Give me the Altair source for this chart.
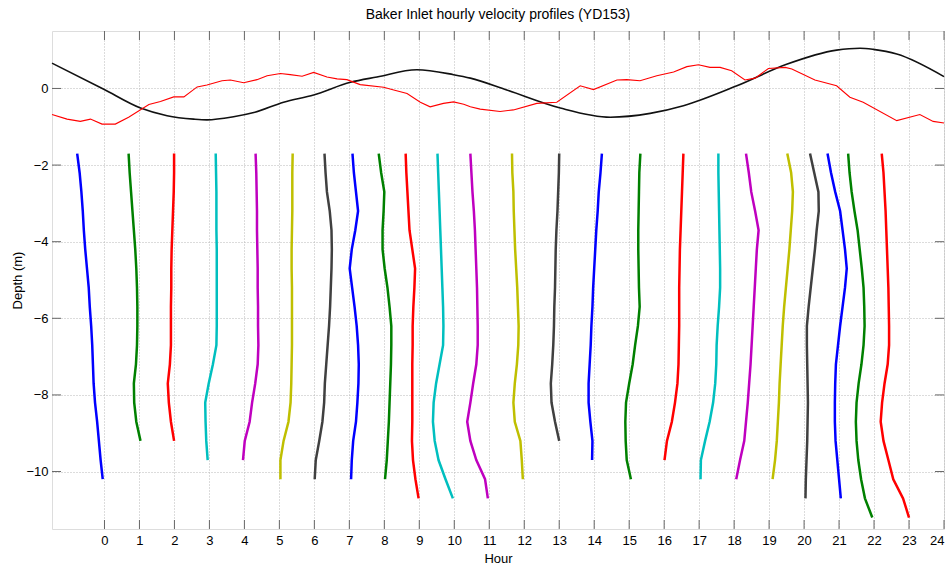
import altair as alt
import pandas as pd

# ---- data ----
depths = [-1.7, -2.2, -2.7, -3.2, -3.7, -4.2, -4.7, -5.2, -5.7, -6.2,
          -6.7, -7.2, -7.7, -8.2, -8.7, -9.2, -9.7, -10.2, -10.7, -11.2]

profile_x = [
    [-0.78, -0.71, -0.66, -0.62, -0.59, -0.55, -0.50, -0.45, -0.42, -0.38, -0.35, -0.33, -0.31, -0.27, -0.21, -0.16, -0.11, -0.05],
    [0.69, 0.72, 0.76, 0.80, 0.84, 0.88, 0.91, 0.93, 0.94, 0.94, 0.93, 0.90, 0.84, 0.85, 0.91, 1.03],
    [1.99, 1.99, 1.98, 1.96, 1.94, 1.92, 1.91, 1.91, 1.90, 1.90, 1.90, 1.87, 1.81, 1.84, 1.90, 1.99],
    [3.18, 3.19, 3.20, 3.20, 3.20, 3.21, 3.21, 3.21, 3.21, 3.21, 3.20, 3.10, 2.98, 2.88, 2.89, 2.91, 2.95],
    [4.32, 4.34, 4.35, 4.36, 4.36, 4.37, 4.38, 4.38, 4.39, 4.39, 4.40, 4.38, 4.31, 4.22, 4.15, 4.01, 3.96],
    [5.38, 5.37, 5.37, 5.37, 5.36, 5.35, 5.35, 5.36, 5.36, 5.36, 5.36, 5.35, 5.34, 5.32, 5.26, 5.12, 5.03, 5.03],
    [6.29, 6.32, 6.36, 6.44, 6.49, 6.50, 6.49, 6.47, 6.45, 6.42, 6.38, 6.34, 6.30, 6.28, 6.23, 6.14, 6.04, 6.01],
    [7.09, 7.13, 7.19, 7.25, 7.17, 7.07, 7.01, 7.08, 7.15, 7.21, 7.25, 7.27, 7.26, 7.23, 7.19, 7.11, 7.07, 7.05],
    [7.84, 7.91, 8.00, 7.98, 7.95, 7.95, 8.01, 8.09, 8.15, 8.20, 8.20, 8.19, 8.17, 8.15, 8.13, 8.10, 8.07, 8.02],
    [8.61, 8.63, 8.66, 8.69, 8.72, 8.80, 8.88, 8.86, 8.83, 8.81, 8.81, 8.80, 8.80, 8.80, 8.80, 8.79, 8.82, 8.89, 8.98],
    [9.52, 9.54, 9.56, 9.58, 9.60, 9.62, 9.64, 9.66, 9.68, 9.69, 9.68, 9.58, 9.48, 9.41, 9.39, 9.44, 9.55, 9.75, 9.96],
    [10.46, 10.49, 10.52, 10.56, 10.59, 10.61, 10.63, 10.65, 10.66, 10.67, 10.67, 10.63, 10.54, 10.46, 10.37, 10.46, 10.63, 10.88, 10.96],
    [11.65, 11.66, 11.69, 11.70, 11.72, 11.74, 11.77, 11.80, 11.82, 11.84, 11.83, 11.79, 11.73, 11.69, 11.73, 11.89, 11.93, 11.96],
    [13.00, 12.99, 12.97, 12.95, 12.92, 12.90, 12.89, 12.88, 12.86, 12.85, 12.83, 12.80, 12.76, 12.78, 12.88, 13.00],
    [14.22, 14.18, 14.13, 14.10, 14.06, 14.03, 14.00, 13.97, 13.95, 13.92, 13.90, 13.87, 13.84, 13.84, 13.89, 13.95, 13.94],
    [15.32, 15.29, 15.28, 15.27, 15.26, 15.26, 15.27, 15.28, 15.30, 15.25, 15.17, 15.10, 15.00, 14.91, 14.89, 14.90, 14.93, 15.05],
    [16.55, 16.53, 16.51, 16.49, 16.47, 16.45, 16.44, 16.43, 16.43, 16.43, 16.42, 16.41, 16.38, 16.31, 16.22, 16.08, 16.01],
    [17.55, 17.55, 17.56, 17.57, 17.58, 17.59, 17.60, 17.60, 17.57, 17.53, 17.50, 17.49, 17.46, 17.40, 17.30, 17.17, 17.05, 17.04],
    [18.34, 18.42, 18.49, 18.60, 18.70, 18.65, 18.62, 18.59, 18.56, 18.53, 18.50, 18.47, 18.43, 18.39, 18.34, 18.29, 18.17, 18.06],
    [19.52, 19.63, 19.68, 19.66, 19.62, 19.58, 19.53, 19.48, 19.43, 19.39, 19.36, 19.33, 19.30, 19.28, 19.25, 19.22, 19.17, 19.10],
    [20.17, 20.29, 20.41, 20.42, 20.36, 20.31, 20.25, 20.19, 20.13, 20.08, 20.08, 20.09, 20.10, 20.11, 20.10, 20.09, 20.07, 20.05, 20.04],
    [20.67, 20.77, 20.89, 21.03, 21.10, 21.17, 21.22, 21.17, 21.10, 21.03, 20.97, 20.91, 20.89, 20.88, 20.88, 20.90, 20.95, 21.00, 21.05],
    [21.26, 21.30, 21.36, 21.44, 21.53, 21.59, 21.65, 21.70, 21.72, 21.73, 21.70, 21.64, 21.56, 21.50, 21.48, 21.50, 21.55, 21.63, 21.74, 21.95],
    [22.22, 22.27, 22.30, 22.33, 22.35, 22.37, 22.39, 22.41, 22.42, 22.43, 22.43, 22.39, 22.30, 22.23, 22.19, 22.27, 22.41, 22.55, 22.83, 23.00],
]

color_cycle = ["#0000FF", "#008000", "#FF0000", "#00BFBF", "#BF00BF", "#BFBF00", "#404040"]

black_x = [-1.5, -0.02, 1.03, 1.79, 2.55, 2.93, 3.69, 4.27, 5.12, 5.98, 7.03, 7.79, 8.93,
           9.98, 10.46, 11.5, 13.03, 14.46, 15.6, 16.55, 18.08, 19.5, 20.93, 21.6, 21.98, 22.65, 24.0]
black_y = [0.66, -0.02, -0.51, -0.71, -0.80, -0.82, -0.74, -0.63, -0.36, -0.17, 0.16, 0.30, 0.49,
           0.36, 0.27, -0.04, -0.51, -0.75, -0.65, -0.45, 0.07, 0.63, 1.0, 1.05, 1.02, 0.90, 0.31]

red_x = [-1.5, -1.07, -0.69, -0.4, -0.07, 0.31, 0.69, 1.27, 1.6, 1.98, 2.27, 2.65, 2.93, 3.36, 3.6,
         3.98, 4.36, 4.65, 5.03, 5.31, 5.65, 5.98, 6.36, 6.65, 6.93, 7.31, 7.98, 8.27, 8.65, 9.03,
         9.31, 9.69, 9.98, 10.27, 10.46, 10.74, 11.31, 11.69, 12.36, 12.93, 13.6, 13.98, 14.65,
         14.93, 15.31, 15.79, 16.27, 16.65, 16.98, 17.31, 17.6, 17.93, 18.31, 18.6, 18.98, 19.46,
         19.65, 20.31, 20.93, 21.31, 21.69, 22.65, 23.31, 23.69, 24.0]
red_y = [-0.68, -0.80, -0.86, -0.80, -0.93, -0.93, -0.75, -0.42, -0.34, -0.22, -0.22, 0.04, 0.09,
         0.20, 0.22, 0.15, 0.23, 0.33, 0.39, 0.36, 0.32, 0.42, 0.30, 0.25, 0.23, 0.10, 0.03, -0.04,
         -0.13, -0.36, -0.48, -0.39, -0.35, -0.41, -0.48, -0.54, -0.60, -0.56, -0.39, -0.36, 0.07,
         -0.03, 0.22, 0.23, 0.20, 0.33, 0.43, 0.57, 0.62, 0.55, 0.55, 0.46, 0.22, 0.27, 0.52, 0.55,
         0.51, 0.22, 0.07, -0.23, -0.36, -0.84, -0.68, -0.86, -0.90]

x_ticks = list(range(0, 25))
y_ticks = [-10, -8, -6, -4, -2, 0]

# ---- tables ----
rows = []
for h, xs in enumerate(profile_x):
    for i, xv in enumerate(xs):
        rows.append({"hour": h, "idx": i, "x": xv, "y": depths[i],
                     "color": color_cycle[h % len(color_cycle)]})
prof_df = pd.DataFrame(rows)
black_df = pd.DataFrame({"x": black_x, "y": black_y})
red_df = pd.DataFrame({"x": red_x, "y": red_y})
xt_df = pd.DataFrame({"x": x_ticks})
yt_df = pd.DataFrame({"y": y_ticks})

W, H = 892, 498
FONT = "Liberation Sans"
LBL = 13

xscale = alt.Scale(domain=[-1.5, 24], nice=False, zero=False)
yscale = alt.Scale(domain=[-11.5, 1.5], nice=False, zero=False)
xaxis = alt.Axis(values=x_ticks, title="Hour", grid=True, gridDash=[1, 2], gridColor="#b8b8b8",
                 ticks=False, domain=False, labelPadding=5, titlePadding=5, format="d",
                 labelFont=FONT, titleFont=FONT, labelFontSize=LBL, titleFontSize=LBL,
                 titleFontWeight="normal", labelColor="#000000", titleColor="#000000")
yaxis = alt.Axis(values=y_ticks, title="Depth (m)", grid=True, gridDash=[1, 2], gridColor="#b8b8b8",
                 ticks=False, domain=False, labelPadding=4, titlePadding=1, format="d",
                 labelFont=FONT, titleFont=FONT, labelFontSize=LBL, titleFontSize=LBL,
                 titleFontWeight="normal", labelColor="#000000", titleColor="#000000")


def X(field="x"):
    return alt.X(f"{field}:Q", scale=xscale, axis=xaxis)


def Y(field="y"):
    return alt.Y(f"{field}:Q", scale=yscale, axis=yaxis)


profiles = alt.Chart(prof_df).mark_line(strokeWidth=2.5, clip=True).encode(
    x=X(), y=Y(), detail="hour:N", order="idx:Q",
    color=alt.Color("color:N", scale=None),
)

black_line = alt.Chart(black_df).mark_line(color="#111111", strokeWidth=1.6,
                                           interpolate="monotone").encode(x=X(), y=Y())
red_line = alt.Chart(red_df).mark_line(color="#FF0000", strokeWidth=1.1).encode(x=X(), y=Y())

tick_col = "#666666"
xt_bottom = alt.Chart(xt_df).mark_rule(color=tick_col).encode(
    x=X(), y=alt.value(H), y2=alt.value(H - 9))
xt_top = alt.Chart(xt_df).mark_rule(color=tick_col).encode(
    x=X(), y=alt.value(0), y2=alt.value(9))
yt_left = alt.Chart(yt_df).mark_rule(color=tick_col).encode(
    y=Y(), x=alt.value(0), x2=alt.value(9))
yt_right = alt.Chart(yt_df).mark_rule(color=tick_col).encode(
    y=Y(), x=alt.value(W - 9), x2=alt.value(W))

chart = alt.layer(
    profiles, black_line, red_line, xt_bottom, xt_top, yt_left, yt_right
).properties(
    width=W, height=H,
    title=alt.TitleParams("Baker Inlet hourly velocity profiles (YD153)", fontSize=14,
                          font=FONT, fontWeight="normal", color="#000000", offset=9),
    autosize=alt.AutoSizeParams(type="none"),
    padding={"left": 52, "top": 31, "right": 7, "bottom": 36},
).configure_view(
    stroke="#777777", strokeWidth=1
).configure(background="white")

chart.save("out.html", embed_options={"renderer": "svg", "actions": False})
